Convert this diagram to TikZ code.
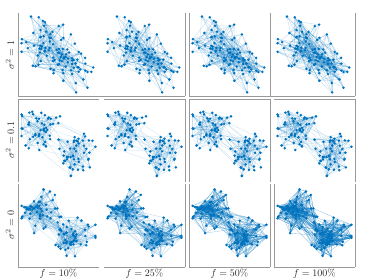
\documentclass[tikz,border=0pt]{standalone}
\definecolor{mblue}{HTML}{0072BD}
\definecolor{axgray}{gray}{0.6}
\definecolor{txt}{gray}{0.15}
\tikzset{
  vtx/.style={circle, fill=mblue, inner sep=0pt, minimum size=2.8pt},
  lnk/.style={draw=mblue, line width=0.3pt, opacity=#1},
  axline/.style={draw=axgray, line width=0.6pt},
  lab/.style={text=txt, font=\normalsize, inner sep=0pt}
}
\newcommand\genrow[8]{%
  \pgfmathsetseed{#2}%
  \foreach \i in {1,...,100}{%
    \pgfmathsetmacro\cx{\i>50 ? #5 : #3}%
    \pgfmathsetmacro\cy{\i>50 ? #6 : #4}%
    \pgfmathsetmacro\ga{rand+rand+rand}%
    \pgfmathsetmacro\gb{rand+rand+rand}%
    \pgfmathsetmacro\gc{rand+rand+rand}%
    \pgfmathsetmacro\xx{max(0.02,min(0.98,\cx+#7*\ga+#8*\gc))}%
    \pgfmathsetmacro\yy{max(0.02,min(0.98,\cy+#7*\gb+0.7*#8*\gc))}%
    \expandafter\xdef\csname PX#1-\i\endcsname{\xx}%
    \expandafter\xdef\csname PY#1-\i\endcsname{\yy}%
  }%
}
\newcommand\drawpanel[7]{%
  \foreach \i in {1,...,100}{%
    \edef\xx{\csname PX#1-\i\endcsname}%
    \edef\yy{\csname PY#1-\i\endcsname}%
    \coordinate (p-#1-#2-\i) at ({#3+2+77*\xx},{#4+2+79*\yy});
  }%
  \foreach \k in {1,...,#5}{%
    \pgfmathtruncatemacro\a{random(1,100)}%
    \pgfmathtruncatemacro\ca{\a>50 ? 1 : 0}%
    \pgfmathtruncatemacro\cb{rnd<#7 ? \ca : 1-\ca}%
    \pgfmathtruncatemacro\b{random(1,50)+50*\cb}%
    \draw[lnk=#6] (p-#1-#2-\a) -- (p-#1-#2-\b);
  }%
  \foreach \i in {1,...,100}{%
    \node[vtx] (n-#1-#2-\i) at (p-#1-#2-\i) {};
  }%
}
\begin{document}
\begin{tikzpicture}[x=1pt,y=-1pt]
\useasboundingbox (0,0) rectangle (374,280);
% node positions per row
\genrow{1}{11}{0.30}{0.38}{0.66}{0.62}{0.14}{0.13}
\genrow{2}{23}{0.26}{0.33}{0.72}{0.63}{0.125}{0.02}
\genrow{3}{37}{0.26}{0.32}{0.70}{0.66}{0.125}{0.02}
% row 1
\drawpanel{1}{1}{18}{13}{260}{0.25}{0.75}
\drawpanel{1}{2}{104}{13}{290}{0.25}{0.75}
\drawpanel{1}{3}{189}{13}{320}{0.27}{0.75}
\drawpanel{1}{4}{274}{13}{350}{0.28}{0.75}
% row 2
\drawpanel{2}{1}{18}{99.5}{260}{0.2}{0.94}
\drawpanel{2}{2}{104}{99.5}{290}{0.2}{0.94}
\drawpanel{2}{3}{189}{99.5}{320}{0.22}{0.94}
\drawpanel{2}{4}{274}{99.5}{350}{0.22}{0.94}
% row 3
\drawpanel{3}{1}{18}{184}{520}{0.22}{0.95}
\drawpanel{3}{2}{104}{184}{580}{0.3}{0.95}
\drawpanel{3}{3}{189}{184}{640}{0.4}{0.95}
\drawpanel{3}{4}{274}{184}{700}{0.45}{0.95}
% frames
\foreach \x in {18,185,189,270,355}{
  \draw[axline] (\x,13) -- (\x,96);
  \draw[axline] (\x,99.5) -- (\x,182);
  \draw[axline] (\x,184) -- (\x,267);
}
\draw[axline] (274,184) -- (274,267);
\draw[axline] (18,96) -- (185,96);
\draw[axline] (189,96) -- (355,96);
\foreach \a/\b in {18/99,104/185,189/270,274/355}{
  \draw[axline] (\a,99.5) -- (\b,99.5);
  \draw[axline] (\a,267) -- (\b,267);
}
% labels
\node[lab, rotate=90] (r1) at (10,55) {$\sigma^2 = 1$};
\node[lab, rotate=90] (r2) at (10,140) {$\sigma^2 = 0.1$};
\node[lab, rotate=90] (r3) at (10,225) {$\sigma^2 = 0$};
\node[lab] (c1) at (58.5,273.5) {$f = 10\%$};
\node[lab] (c2) at (144.5,273.5) {$f = 25\%$};
\node[lab] (c3) at (229.5,273.5) {$f = 50\%$};
\node[lab] (c4) at (314.5,273.5) {$f = 100\%$};
\end{tikzpicture}
\end{document}
